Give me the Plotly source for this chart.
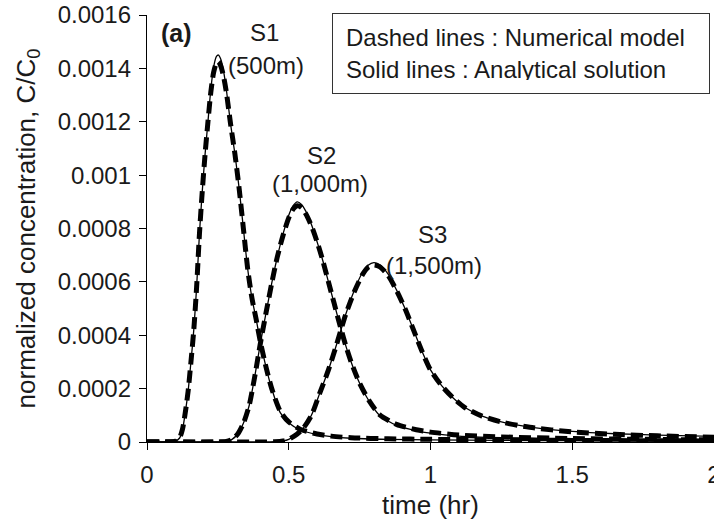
import plotly.graph_objects as go

# ---------------- data ----------------
# S1 (500 m)
t_s1 = [0, 0.08, 0.10, 0.115, 0.125, 0.135, 0.145, 0.155, 0.165, 0.175, 0.185, 0.195,
        0.205, 0.215, 0.225, 0.235, 0.245, 0.252, 0.26, 0.27, 0.28, 0.295, 0.31, 0.325,
        0.34, 0.355, 0.37, 0.385, 0.40, 0.42, 0.44, 0.47, 0.50, 0.54, 0.60, 0.65, 0.72,
        0.85, 1.0, 1.25, 1.5, 1.75, 2.0]
s1_analytical = [0, 0, 0.03, 0.15, 0.45, 1.1, 1.9, 3.0, 4.2, 5.8, 7.8, 9.4,
                 10.8, 12.0, 13.2, 14.05, 14.45, 14.5, 14.35, 13.9, 13.2, 11.9, 10.8, 9.5,
                 8.0, 6.5, 5.4, 4.6, 3.75, 2.8, 2.0, 1.1, 0.72, 0.45, 0.28, 0.2, 0.14,
                 0.1, 0.08, 0.06, 0.05, 0.04, 0.03]
s1_numerical = [0, 0, 0.03, 0.16, 0.47, 1.1, 1.9, 3.0, 4.2, 5.8, 7.8, 9.4,
                10.8, 12.0, 13.1, 13.85, 14.2, 14.25, 14.1, 13.7, 13.1, 11.9, 10.8, 9.5,
                8.0, 6.5, 5.4, 4.6, 3.75, 2.8, 2.0, 1.15, 0.75, 0.48, 0.3, 0.22, 0.16,
                0.12, 0.1, 0.08, 0.06, 0.05, 0.04]

# S2 (1,000 m)
t_s2 = [0, 0.25, 0.28, 0.30, 0.32, 0.34, 0.36, 0.38, 0.40, 0.42, 0.44, 0.46, 0.48,
        0.50, 0.515, 0.53, 0.545, 0.56, 0.58, 0.60, 0.62, 0.64, 0.66, 0.68, 0.70,
        0.72, 0.75, 0.785, 0.82, 0.88, 0.95, 1.0, 1.1, 1.25, 1.5, 1.75, 2.0]
s2_analytical = [0, 0, 0.02, 0.1, 0.3, 0.7, 1.35, 2.45, 3.7, 4.85, 5.95, 6.95, 7.8,
                 8.5, 8.85, 9.0, 8.9, 8.65, 8.15, 7.5, 6.8, 6.0, 5.2, 4.4, 3.65,
                 3.0, 2.2, 1.5, 1.0, 0.62, 0.42, 0.33, 0.22, 0.16, 0.11, 0.08, 0.06]
s2_numerical = [0, 0, 0.02, 0.1, 0.3, 0.7, 1.35, 2.45, 3.7, 4.85, 5.95, 6.95, 7.75,
                8.4, 8.72, 8.85, 8.78, 8.55, 8.1, 7.5, 6.8, 6.0, 5.2, 4.4, 3.65,
                3.0, 2.2, 1.52, 1.03, 0.66, 0.46, 0.37, 0.26, 0.19, 0.13, 0.1, 0.08]

# S3 (1,500 m)
t_s3 = [0, 0.40, 0.45, 0.48, 0.50, 0.53, 0.55, 0.58, 0.61, 0.64, 0.67, 0.70, 0.73,
        0.76, 0.78, 0.80, 0.82, 0.85, 0.88, 0.91, 0.94, 0.97, 1.00, 1.04, 1.08, 1.12,
        1.18, 1.25, 1.35, 1.50, 1.65, 1.80, 2.0]
s3_analytical = [0, 0, 0.01, 0.04, 0.1, 0.3, 0.5, 1.0, 1.85, 2.7, 3.7, 4.75, 5.65,
                 6.35, 6.62, 6.72, 6.65, 6.3, 5.7, 5.0, 4.2, 3.4, 2.7, 2.1, 1.65, 1.3,
                 0.98, 0.75, 0.56, 0.40, 0.31, 0.26, 0.21]
s3_numerical = [0, 0, 0.01, 0.04, 0.1, 0.3, 0.5, 1.0, 1.85, 2.7, 3.7, 4.75, 5.6,
                6.27, 6.55, 6.63, 6.57, 6.25, 5.68, 5.0, 4.2, 3.4, 2.7, 2.1, 1.65, 1.3,
                0.98, 0.75, 0.55, 0.38, 0.29, 0.23, 0.18]

scale = 1e-4  # values above are in units of 1e-4

y_tickvals = [0, 0.0002, 0.0004, 0.0006, 0.0008, 0.001, 0.0012, 0.0014, 0.0016]
y_ticktext = ["0", "0.0002", "0.0004", "0.0006", "0.0008", "0.001", "0.0012", "0.0014", "0.0016"]
x_tickvals = [0, 0.5, 1, 1.5, 2]
x_ticktext = ["0", "0.5", "1", "1.5", "2"]

# ---------------- figure ----------------
FONT = "Liberation Sans, Arial, sans-serif"
TXT = "#1a1a1a"

fig = go.Figure()

series = [
    (t_s1, s1_numerical, s1_analytical),
    (t_s2, s2_numerical, s2_analytical),
    (t_s3, s3_numerical, s3_analytical),
]

for t, num, ana in series:
    fig.add_trace(go.Scatter(
        x=t, y=[v * scale for v in num], mode="lines",
        line=dict(color="black", width=5, dash="12px,6px", shape="spline", smoothing=0.7),
        showlegend=False, hoverinfo="skip"))
for t, num, ana in series:
    fig.add_trace(go.Scatter(
        x=t, y=[v * scale for v in ana], mode="lines",
        line=dict(color="black", width=1.3, shape="spline", smoothing=0.7),
        showlegend=False, hoverinfo="skip"))

fig.update_layout(
    width=714, height=520,
    margin=dict(l=147, r=0, t=15, b=78, autoexpand=False),
    paper_bgcolor="white", plot_bgcolor="white",
    font=dict(family=FONT, color=TXT, size=24),
    showlegend=False,
)

fig.update_xaxes(
    range=[0, 2], tickvals=x_tickvals, ticktext=x_ticktext,
    ticklabeloverflow="allow", automargin=False, ticklabelstandoff=4,
    showline=True, linecolor="black", linewidth=1.3,
    ticks="outside", ticklen=7, tickwidth=1.3, tickcolor="black",
    showgrid=False, zeroline=False,
    tickfont=dict(size=24, family=FONT, color=TXT),
    title=dict(text="time (hr)", font=dict(size=26, family=FONT, color=TXT), standoff=8),
)
fig.update_yaxes(
    range=[0, 0.0016], tickvals=y_tickvals, ticktext=y_ticktext,
    automargin=False, ticklabelstandoff=3,
    showline=True, linecolor="black", linewidth=1.3,
    ticks="outside", ticklen=7, tickwidth=1.3, tickcolor="black",
    showgrid=False, zeroline=False,
    tickfont=dict(size=24, family=FONT, color=TXT),
    title=dict(text="normalized concentration, C/C<sub>0</sub>",
               font=dict(size=26, family=FONT, color=TXT), standoff=14),
)

def label(text, x, y, size=24, bold=False):
    fig.add_annotation(
        text=f"<b>{text}</b>" if bold else text,
        x=x, y=y, xref="x", yref="y", showarrow=False,
        xanchor="center", yanchor="middle",
        font=dict(size=size, family=FONT, color=TXT))

label("(a)", 0.1023, 0.001533, size=25, bold=True)
label("S1", 0.4127, 0.001533)
label("(500m)", 0.4198, 0.001409)
label("S2", 0.6138, 0.001072)
label("(1,000m)", 0.6102, 0.000967)
label("S3", 1.0088, 0.000776)
label("(1,500m)", 1.0123, 0.000663)

fig.add_annotation(
    text="Dashed lines : Numerical model<br>Solid lines : Analytical solution",
    x=1.3192, y=0.001456, xref="x", yref="y", showarrow=False,
    xanchor="center", yanchor="middle", align="left",
    width=350, height=53, borderpad=13,
    bordercolor="#333333", borderwidth=1, bgcolor="white",
    font=dict(size=24, family=FONT, color=TXT))

fig.write_html("out.html")
